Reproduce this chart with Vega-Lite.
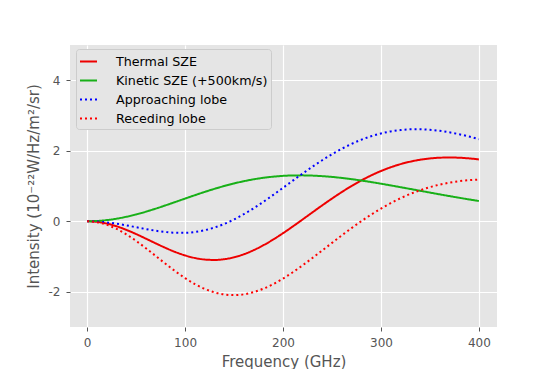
{
  "$schema": "https://vega.github.io/schema/vega-lite/v6.json",
  "autosize": "none",
  "width": 427,
  "height": 282,
  "padding": {"left": 70, "top": 45, "right": 57, "bottom": 42},
  "background": "#ffffff",
  "config": {
    "font": "DejaVu Sans",
    "view": {"fill": "#E5E5E5", "stroke": null},
    "axis": {
      "domain": false,
      "grid": true,
      "gridColor": "#ffffff",
      "gridWidth": 1.2,
      "tickColor": "#555555",
      "tickSize": 4,
      "tickWidth": 1,
      "labelColor": "#555555",
      "labelFontSize": 12,
      "labelPadding": 5,
      "titleColor": "#555555",
      "titleFontSize": 15,
      "titleFontWeight": "normal"
    },
    "legend": {
      "labelFontSize": 12.7,
      "labelColor": "#000000",
      "symbolType": "stroke",
      "symbolStrokeWidth": 2,
      "symbolSize": 289,
      "labelOffset": 18,
      "padding": 3,
      "rowPadding": 2,
      "fillColor": "#E5E5E5",
      "strokeColor": "#CCCCCC",
      "cornerRadius": 3
    }
  },
  "data": {
    "values": [
      {"freq": 0, "intensity": 0, "series": "Thermal SZE"},
      {"freq": 10, "intensity": -0.0165, "series": "Thermal SZE"},
      {"freq": 20, "intensity": -0.0648, "series": "Thermal SZE"},
      {"freq": 30, "intensity": -0.1421, "series": "Thermal SZE"},
      {"freq": 40, "intensity": -0.2436, "series": "Thermal SZE"},
      {"freq": 50, "intensity": -0.3631, "series": "Thermal SZE"},
      {"freq": 60, "intensity": -0.4935, "series": "Thermal SZE"},
      {"freq": 70, "intensity": -0.627, "series": "Thermal SZE"},
      {"freq": 80, "intensity": -0.7556, "series": "Thermal SZE"},
      {"freq": 90, "intensity": -0.872, "series": "Thermal SZE"},
      {"freq": 100, "intensity": -0.9694, "series": "Thermal SZE"},
      {"freq": 110, "intensity": -1.0422, "series": "Thermal SZE"},
      {"freq": 120, "intensity": -1.0859, "series": "Thermal SZE"},
      {"freq": 130, "intensity": -1.0979, "series": "Thermal SZE"},
      {"freq": 140, "intensity": -1.0766, "series": "Thermal SZE"},
      {"freq": 150, "intensity": -1.0223, "series": "Thermal SZE"},
      {"freq": 160, "intensity": -0.9363, "series": "Thermal SZE"},
      {"freq": 170, "intensity": -0.8212, "series": "Thermal SZE"},
      {"freq": 180, "intensity": -0.6804, "series": "Thermal SZE"},
      {"freq": 190, "intensity": -0.5182, "series": "Thermal SZE"},
      {"freq": 200, "intensity": -0.3391, "series": "Thermal SZE"},
      {"freq": 210, "intensity": -0.1479, "series": "Thermal SZE"},
      {"freq": 220, "intensity": 0.0504, "series": "Thermal SZE"},
      {"freq": 230, "intensity": 0.2513, "series": "Thermal SZE"},
      {"freq": 240, "intensity": 0.4504, "series": "Thermal SZE"},
      {"freq": 250, "intensity": 0.6437, "series": "Thermal SZE"},
      {"freq": 260, "intensity": 0.828, "series": "Thermal SZE"},
      {"freq": 270, "intensity": 1.0002, "series": "Thermal SZE"},
      {"freq": 280, "intensity": 1.1581, "series": "Thermal SZE"},
      {"freq": 290, "intensity": 1.3001, "series": "Thermal SZE"},
      {"freq": 300, "intensity": 1.4248, "series": "Thermal SZE"},
      {"freq": 310, "intensity": 1.5317, "series": "Thermal SZE"},
      {"freq": 320, "intensity": 1.6204, "series": "Thermal SZE"},
      {"freq": 330, "intensity": 1.6913, "series": "Thermal SZE"},
      {"freq": 340, "intensity": 1.7447, "series": "Thermal SZE"},
      {"freq": 350, "intensity": 1.7814, "series": "Thermal SZE"},
      {"freq": 360, "intensity": 1.8023, "series": "Thermal SZE"},
      {"freq": 370, "intensity": 1.8089, "series": "Thermal SZE"},
      {"freq": 380, "intensity": 1.8021, "series": "Thermal SZE"},
      {"freq": 390, "intensity": 1.7834, "series": "Thermal SZE"},
      {"freq": 400, "intensity": 1.7542, "series": "Thermal SZE"},

      {"freq": 0, "intensity": 0, "series": "Kinetic SZE (+500km/s)"},
      {"freq": 10, "intensity": 0.0083, "series": "Kinetic SZE (+500km/s)"},
      {"freq": 20, "intensity": 0.0328, "series": "Kinetic SZE (+500km/s)"},
      {"freq": 30, "intensity": 0.0727, "series": "Kinetic SZE (+500km/s)"},
      {"freq": 40, "intensity": 0.127, "series": "Kinetic SZE (+500km/s)"},
      {"freq": 50, "intensity": 0.1939, "series": "Kinetic SZE (+500km/s)"},
      {"freq": 60, "intensity": 0.2716, "series": "Kinetic SZE (+500km/s)"},
      {"freq": 70, "intensity": 0.3577, "series": "Kinetic SZE (+500km/s)"},
      {"freq": 80, "intensity": 0.4499, "series": "Kinetic SZE (+500km/s)"},
      {"freq": 90, "intensity": 0.5457, "series": "Kinetic SZE (+500km/s)"},
      {"freq": 100, "intensity": 0.6429, "series": "Kinetic SZE (+500km/s)"},
      {"freq": 110, "intensity": 0.7389, "series": "Kinetic SZE (+500km/s)"},
      {"freq": 120, "intensity": 0.8316, "series": "Kinetic SZE (+500km/s)"},
      {"freq": 130, "intensity": 0.9193, "series": "Kinetic SZE (+500km/s)"},
      {"freq": 140, "intensity": 1.0, "series": "Kinetic SZE (+500km/s)"},
      {"freq": 150, "intensity": 1.0727, "series": "Kinetic SZE (+500km/s)"},
      {"freq": 160, "intensity": 1.1361, "series": "Kinetic SZE (+500km/s)"},
      {"freq": 170, "intensity": 1.1895, "series": "Kinetic SZE (+500km/s)"},
      {"freq": 180, "intensity": 1.2326, "series": "Kinetic SZE (+500km/s)"},
      {"freq": 190, "intensity": 1.2651, "series": "Kinetic SZE (+500km/s)"},
      {"freq": 200, "intensity": 1.2872, "series": "Kinetic SZE (+500km/s)"},
      {"freq": 210, "intensity": 1.2992, "series": "Kinetic SZE (+500km/s)"},
      {"freq": 220, "intensity": 1.3015, "series": "Kinetic SZE (+500km/s)"},
      {"freq": 230, "intensity": 1.2948, "series": "Kinetic SZE (+500km/s)"},
      {"freq": 240, "intensity": 1.2799, "series": "Kinetic SZE (+500km/s)"},
      {"freq": 250, "intensity": 1.2576, "series": "Kinetic SZE (+500km/s)"},
      {"freq": 260, "intensity": 1.2287, "series": "Kinetic SZE (+500km/s)"},
      {"freq": 270, "intensity": 1.1942, "series": "Kinetic SZE (+500km/s)"},
      {"freq": 280, "intensity": 1.1549, "series": "Kinetic SZE (+500km/s)"},
      {"freq": 290, "intensity": 1.1117, "series": "Kinetic SZE (+500km/s)"},
      {"freq": 300, "intensity": 1.0655, "series": "Kinetic SZE (+500km/s)"},
      {"freq": 310, "intensity": 1.017, "series": "Kinetic SZE (+500km/s)"},
      {"freq": 320, "intensity": 0.9669, "series": "Kinetic SZE (+500km/s)"},
      {"freq": 330, "intensity": 0.9159, "series": "Kinetic SZE (+500km/s)"},
      {"freq": 340, "intensity": 0.8646, "series": "Kinetic SZE (+500km/s)"},
      {"freq": 350, "intensity": 0.8135, "series": "Kinetic SZE (+500km/s)"},
      {"freq": 360, "intensity": 0.7629, "series": "Kinetic SZE (+500km/s)"},
      {"freq": 370, "intensity": 0.7135, "series": "Kinetic SZE (+500km/s)"},
      {"freq": 380, "intensity": 0.6653, "series": "Kinetic SZE (+500km/s)"},
      {"freq": 390, "intensity": 0.6187, "series": "Kinetic SZE (+500km/s)"},
      {"freq": 400, "intensity": 0.5739, "series": "Kinetic SZE (+500km/s)"},

      {"freq": 0, "intensity": 0, "series": "Approaching lobe"},
      {"freq": 10, "intensity": -0.0082, "series": "Approaching lobe"},
      {"freq": 20, "intensity": -0.0321, "series": "Approaching lobe"},
      {"freq": 30, "intensity": -0.0694, "series": "Approaching lobe"},
      {"freq": 40, "intensity": -0.1166, "series": "Approaching lobe"},
      {"freq": 50, "intensity": -0.1692, "series": "Approaching lobe"},
      {"freq": 60, "intensity": -0.2219, "series": "Approaching lobe"},
      {"freq": 70, "intensity": -0.2693, "series": "Approaching lobe"},
      {"freq": 80, "intensity": -0.3058, "series": "Approaching lobe"},
      {"freq": 90, "intensity": -0.3263, "series": "Approaching lobe"},
      {"freq": 100, "intensity": -0.3266, "series": "Approaching lobe"},
      {"freq": 110, "intensity": -0.3033, "series": "Approaching lobe"},
      {"freq": 120, "intensity": -0.2543, "series": "Approaching lobe"},
      {"freq": 130, "intensity": -0.1786, "series": "Approaching lobe"},
      {"freq": 140, "intensity": -0.0766, "series": "Approaching lobe"},
      {"freq": 150, "intensity": 0.0503, "series": "Approaching lobe"},
      {"freq": 160, "intensity": 0.1997, "series": "Approaching lobe"},
      {"freq": 170, "intensity": 0.3683, "series": "Approaching lobe"},
      {"freq": 180, "intensity": 0.5522, "series": "Approaching lobe"},
      {"freq": 190, "intensity": 0.747, "series": "Approaching lobe"},
      {"freq": 200, "intensity": 0.9482, "series": "Approaching lobe"},
      {"freq": 210, "intensity": 1.1513, "series": "Approaching lobe"},
      {"freq": 220, "intensity": 1.3519, "series": "Approaching lobe"},
      {"freq": 230, "intensity": 1.5461, "series": "Approaching lobe"},
      {"freq": 240, "intensity": 1.7303, "series": "Approaching lobe"},
      {"freq": 250, "intensity": 1.9013, "series": "Approaching lobe"},
      {"freq": 260, "intensity": 2.0567, "series": "Approaching lobe"},
      {"freq": 270, "intensity": 2.1944, "series": "Approaching lobe"},
      {"freq": 280, "intensity": 2.313, "series": "Approaching lobe"},
      {"freq": 290, "intensity": 2.4118, "series": "Approaching lobe"},
      {"freq": 300, "intensity": 2.4903, "series": "Approaching lobe"},
      {"freq": 310, "intensity": 2.5487, "series": "Approaching lobe"},
      {"freq": 320, "intensity": 2.5873, "series": "Approaching lobe"},
      {"freq": 330, "intensity": 2.6072, "series": "Approaching lobe"},
      {"freq": 340, "intensity": 2.6093, "series": "Approaching lobe"},
      {"freq": 350, "intensity": 2.5948, "series": "Approaching lobe"},
      {"freq": 360, "intensity": 2.5653, "series": "Approaching lobe"},
      {"freq": 370, "intensity": 2.5223, "series": "Approaching lobe"},
      {"freq": 380, "intensity": 2.4673, "series": "Approaching lobe"},
      {"freq": 390, "intensity": 2.402, "series": "Approaching lobe"},
      {"freq": 400, "intensity": 2.328, "series": "Approaching lobe"},

      {"freq": 0, "intensity": 0, "series": "Receding lobe"},
      {"freq": 10, "intensity": -0.0247, "series": "Receding lobe"},
      {"freq": 20, "intensity": -0.0976, "series": "Receding lobe"},
      {"freq": 30, "intensity": -0.2149, "series": "Receding lobe"},
      {"freq": 40, "intensity": -0.3706, "series": "Receding lobe"},
      {"freq": 50, "intensity": -0.5571, "series": "Receding lobe"},
      {"freq": 60, "intensity": -0.765, "series": "Receding lobe"},
      {"freq": 70, "intensity": -0.9846, "series": "Receding lobe"},
      {"freq": 80, "intensity": -1.2055, "series": "Receding lobe"},
      {"freq": 90, "intensity": -1.4177, "series": "Receding lobe"},
      {"freq": 100, "intensity": -1.6123, "series": "Receding lobe"},
      {"freq": 110, "intensity": -1.781, "series": "Receding lobe"},
      {"freq": 120, "intensity": -1.9176, "series": "Receding lobe"},
      {"freq": 130, "intensity": -2.0172, "series": "Receding lobe"},
      {"freq": 140, "intensity": -2.0767, "series": "Receding lobe"},
      {"freq": 150, "intensity": -2.095, "series": "Receding lobe"},
      {"freq": 160, "intensity": -2.0724, "series": "Receding lobe"},
      {"freq": 170, "intensity": -2.0108, "series": "Receding lobe"},
      {"freq": 180, "intensity": -1.913, "series": "Receding lobe"},
      {"freq": 190, "intensity": -1.7833, "series": "Receding lobe"},
      {"freq": 200, "intensity": -1.6263, "series": "Receding lobe"},
      {"freq": 210, "intensity": -1.4471, "series": "Receding lobe"},
      {"freq": 220, "intensity": -1.2511, "series": "Receding lobe"},
      {"freq": 230, "intensity": -1.0435, "series": "Receding lobe"},
      {"freq": 240, "intensity": -0.8295, "series": "Receding lobe"},
      {"freq": 250, "intensity": -0.6138, "series": "Receding lobe"},
      {"freq": 260, "intensity": -0.4007, "series": "Receding lobe"},
      {"freq": 270, "intensity": -0.194, "series": "Receding lobe"},
      {"freq": 280, "intensity": 0.0032, "series": "Receding lobe"},
      {"freq": 290, "intensity": 0.1883, "series": "Receding lobe"},
      {"freq": 300, "intensity": 0.3593, "series": "Receding lobe"},
      {"freq": 310, "intensity": 0.5147, "series": "Receding lobe"},
      {"freq": 320, "intensity": 0.6535, "series": "Receding lobe"},
      {"freq": 330, "intensity": 0.7753, "series": "Receding lobe"},
      {"freq": 340, "intensity": 0.8801, "series": "Receding lobe"},
      {"freq": 350, "intensity": 0.9679, "series": "Receding lobe"},
      {"freq": 360, "intensity": 1.0394, "series": "Receding lobe"},
      {"freq": 370, "intensity": 1.0954, "series": "Receding lobe"},
      {"freq": 380, "intensity": 1.1368, "series": "Receding lobe"},
      {"freq": 390, "intensity": 1.1647, "series": "Receding lobe"},
      {"freq": 400, "intensity": 1.1803, "series": "Receding lobe"}
    ]
  },
  "mark": {"type": "line", "strokeWidth": 2, "interpolate": "monotone", "strokeCap": "butt", "clip": true},
  "encoding": {
    "x": {
      "field": "freq",
      "type": "quantitative",
      "scale": {"domain": [-17.5, 418.5], "nice": false, "zero": false},
      "axis": {"values": [0, 100, 200, 300, 400], "title": "Frequency (GHz)", "labelPadding": 6, "titlePadding": 6}
    },
    "y": {
      "field": "intensity",
      "type": "quantitative",
      "scale": {"domain": [-3, 5], "nice": false, "zero": false},
      "axis": {"values": [-2, 0, 2, 4], "labelExpr": "'' + datum.value", "title": "Intensity (10⁻²²W/Hz/m²/sr)", "labelPadding": 6, "titlePadding": 7}
    },
    "color": {
      "field": "series",
      "type": "nominal",
      "sort": null,
      "scale": {
        "domain": ["Thermal SZE", "Kinetic SZE (+500km/s)", "Approaching lobe", "Receding lobe"],
        "range": ["#ee0000", "#18b018", "#0000ff", "#ff0000"]
      },
      "legend": {"title": null, "orient": "none", "legendX": 6, "legendY": 4}
    },
    "strokeDash": {
      "field": "series",
      "type": "nominal",
      "sort": null,
      "scale": {
        "domain": ["Thermal SZE", "Kinetic SZE (+500km/s)", "Approaching lobe", "Receding lobe"],
        "range": [[1, 0], [1, 0], [2, 3], [2, 3]]
      },
      "legend": {"title": null, "orient": "none", "legendX": 6, "legendY": 4}
    }
  }
}
